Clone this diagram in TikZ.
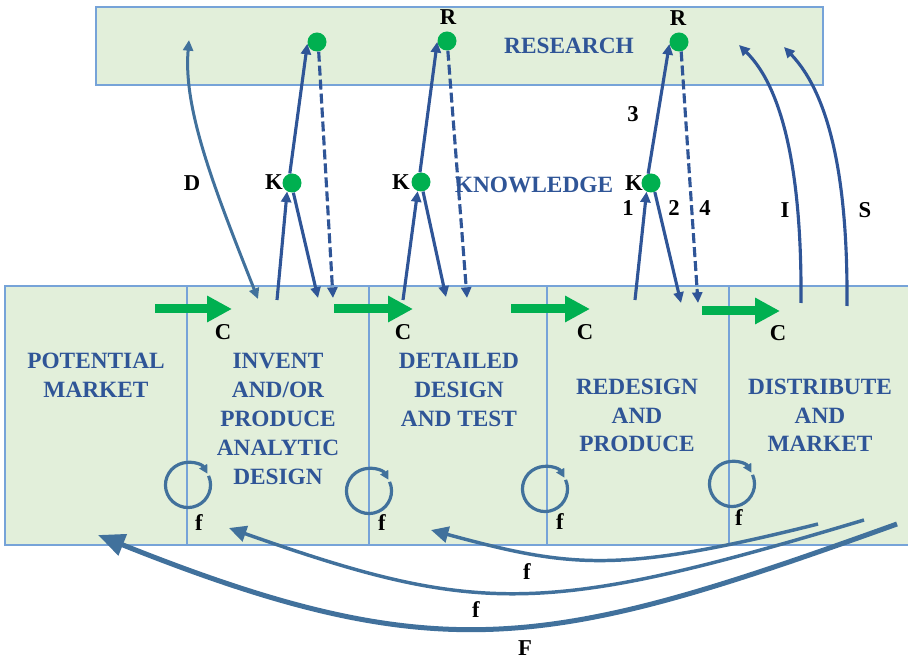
\documentclass[tikz,border=0pt]{standalone}
\usepackage{fontspec}
\setmainfont{Liberation Serif}
\usetikzlibrary{arrows.meta}
\definecolor{boxfill}{RGB}{226,239,218}
\definecolor{boxline}{RGB}{118,163,216}
\definecolor{inkblue}{RGB}{47,85,151}
\definecolor{steel}{RGB}{65,113,156}
\definecolor{grn}{RGB}{0,176,80}
\begin{document}
\begin{tikzpicture}[x=0.75pt,y=-0.75pt,
  stage/.style={text=inkblue, font=\bfseries\fontsize{17.5pt}{21.75pt}\selectfont,
    align=center, anchor=north, inner sep=0pt},
  title/.style={text=inkblue, font=\bfseries\fontsize{17.5pt}{21pt}\selectfont, inner sep=0pt},
  lbl/.style={text=black, font=\bfseries\fontsize{17pt}{20pt}\selectfont, inner sep=0pt},
  dot/.style={circle, fill=grn, minimum size=14.25pt, inner sep=0pt},
  karrow/.style={draw=inkblue, line width=2.35pt, -{Triangle[length=8pt,width=7.5pt]}},
  kdash/.style={karrow, dash pattern=on 7.5pt off 3pt},
  darrow/.style={draw=steel, line width=2.25pt,
    {Triangle[length=8pt,width=7.5pt]}-{Triangle[length=8pt,width=7.5pt]}},
  carrow/.style={draw=grn, line width=6.75pt, -{Triangle[length=18.75pt,width=18.75pt]}},
  cycle/.style={draw=steel, line width=2.4pt, -{Triangle[length=6.5pt,width=6.5pt]}},
  farrow/.style={draw=steel, line width=2.6pt, -{Triangle[length=13pt,width=12pt]}},
  bigF/.style={draw=steel, line width=3.75pt, -{Triangle[length=20pt,width=16.5pt]}},
]
\useasboundingbox (0,0) rectangle (908,659);

% research band
\fill[boxfill] (96,7) rectangle (823,85);
\draw[boxline, line width=1.1pt] (96,7) rectangle (823,85);

% stage band with its dividers
\fill[boxfill] (5,286) rectangle (908,545);
\draw[boxline, line width=1.1pt] (908,286) -- (5,286) -- (5,545) -- (908,545);
\foreach \x in {187,369,547,729}
  \draw[boxline, line width=0.9pt] (\x,286) -- (\x,545);

% band titles
\node[title] (research) at (569,46) {RESEARCH};
\node[title] (knowledge) at (534,185) {KNOWLEDGE};

% stages
\node[stage] (market) at (96,353) {POTENTIAL\\MARKET};
\node[stage] (invent) at (278,353) {INVENT\\AND/OR\\PRODUCE\\ANALYTIC\\DESIGN};
\node[stage] (detail) at (459,353) {DETAILED\\DESIGN\\AND TEST};
\node[stage, font=\bfseries\fontsize{17.5pt}{21.4pt}\selectfont] (redesign) at (637,379) {REDESIGN\\AND\\PRODUCE};
\node[stage, font=\bfseries\fontsize{17.5pt}{21.4pt}\selectfont] (distrib) at (820,379) {DISTRIBUTE\\AND\\MARKET};

% research and knowledge points
\node[dot] (R1) at (317,42) {};
\node[dot] (R2) at (447,41) {};
\node[dot] (R3) at (679,42) {};
\node[dot] (K1) at (292,183) {};
\node[dot] (K2) at (421,182) {};
\node[dot] (K3) at (651,183) {};

% free ends inside the stage band
\coordinate (a1) at (277,300); \coordinate (b1) at (318,298); \coordinate (d1) at (333,298);
\coordinate (a2) at (403,300); \coordinate (b2) at (446,297); \coordinate (d2) at (467,298);
\coordinate (a3) at (635,300); \coordinate (b3) at (681,303); \coordinate (d3) at (698,303);

% knowledge / research exchanges
\draw[karrow] (a1) -- (K1.240);
\draw[karrow] (K1.103) -- (R1.190);
\draw[karrow] (K1.278) -- (b1);
\draw[kdash] (R1.280) -- (d1);

\draw[karrow] (a2) -- (K2.250);
\draw[karrow] (K2.96) -- (R2.185);
\draw[karrow] (K2.282) -- (b2);
\draw[kdash] (R2.275) -- (d2);

\draw[karrow] (a3) -- (K3.243);
\draw[karrow] (K3.107) -- (R3.192);
\draw[karrow] (K3.293) -- (b3);
\draw[kdash] (R3.283) -- (d3);

% D, I and S links
\coordinate (Dtop) at (189,40); \coordinate (Dbot) at (258,299);
\draw[darrow] (Dtop) .. controls (183,110) and (215,190) .. (Dbot);
\coordinate (Ibot) at (801,303); \coordinate (Itop) at (739,45);
\draw[karrow] (Ibot) .. controls (802,180) and (785,90) .. (Itop);
\coordinate (Sbot) at (847,306); \coordinate (Stop) at (784,47);
\draw[karrow] (Sbot) .. controls (848,180) and (830,95) .. (Stop);

% forward flow C
\coordinate (c1s) at (155,309); \coordinate (c1e) at (232,309);
\coordinate (c2s) at (334,309); \coordinate (c2e) at (413,309);
\coordinate (c3s) at (511,309); \coordinate (c3e) at (590,309);
\coordinate (c4s) at (702,311); \coordinate (c4e) at (780,311);
\draw[carrow] (c1s) -- (c1e);
\draw[carrow] (c2s) -- (c2e);
\draw[carrow] (c3s) -- (c3e);
\draw[carrow] (c4s) -- (c4e);

% local feedback loops
\coordinate (L1) at (188,485);
\coordinate (L2) at (369,491);
\coordinate (L3) at (545,489);
\coordinate (L4) at (732,484);
\foreach \c in {L1,L2,L3,L4}
  \draw[cycle] (\c) ++(24:16.9pt) arc[start angle=24, end angle=-330, radius=16.9pt];

% long feedback paths
\coordinate (f1s) at (818,524); \coordinate (f1e) at (431,530);
\coordinate (f2s) at (864,520); \coordinate (f2e) at (229,528);
\coordinate (Fs) at (897,524);  \coordinate (Fe) at (98,535);
\draw[farrow] (f1s) .. controls (618,574) and (571,568) .. (f1e);
\draw[farrow] (f2s) .. controls (544,616) and (479,616) .. (f2e);
\draw[bigF] (Fs) .. controls (552,648) and (443,673) .. (Fe);

% labels
\node[lbl] (lR2) at (448,17) {R};
\node[lbl] (lR3) at (678,18) {R};
\node[lbl] (lK1) at (274,182) {K};
\node[lbl] (lK2) at (401,182) {K};
\node[lbl] (lK3) at (634,183) {K};
\node[lbl] (lD) at (192,183) {D};
\node[lbl] (l3) at (633,114) {3};
\node[lbl] (l1) at (628,208) {1};
\node[lbl] (l2) at (674,208) {2};
\node[lbl] (l4) at (705,208) {4};
\node[lbl] (lI) at (785,210) {I};
\node[lbl] (lS) at (865,210) {S};
\node[lbl] (lC1) at (223,332) {C};
\node[lbl] (lC2) at (403,332) {C};
\node[lbl] (lC3) at (585,332) {C};
\node[lbl] (lC4) at (778,333) {C};
\node[lbl] (lf1) at (199,523) {f};
\node[lbl] (lf2) at (382,523) {f};
\node[lbl] (lf3) at (560,522) {f};
\node[lbl] (lf4) at (739,518) {f};
\node[lbl] (lf5) at (527,572) {f};
\node[lbl] (lf6) at (476,610) {f};
\node[lbl] (lF) at (525,648) {F};
\end{tikzpicture}
\end{document}
